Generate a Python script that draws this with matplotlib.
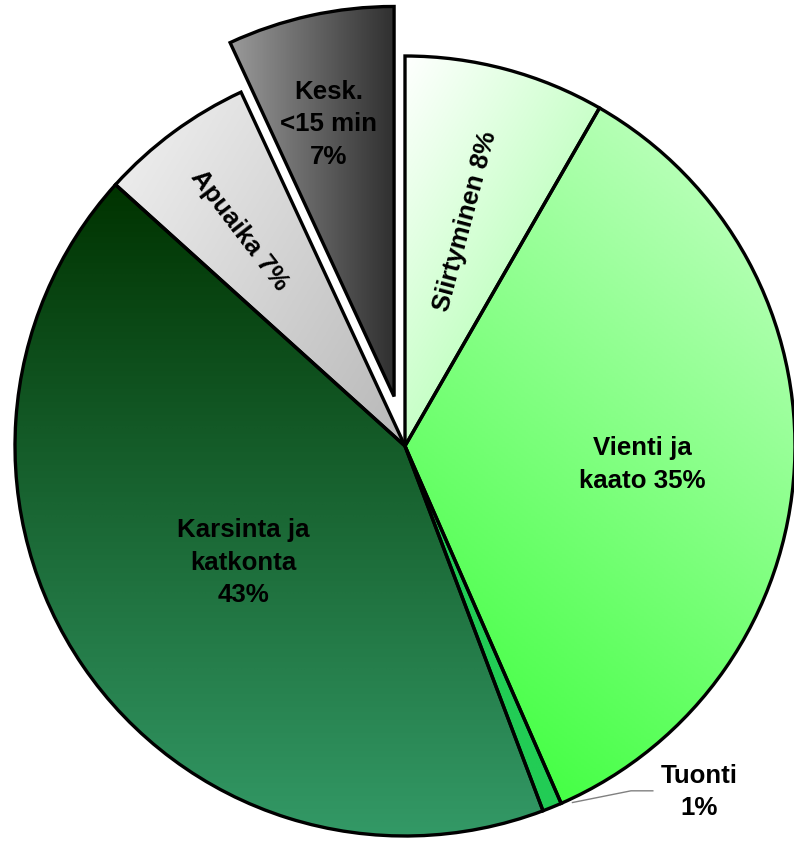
import numpy as np
import matplotlib
matplotlib.use("Agg")
import matplotlib.pyplot as plt
from matplotlib.colors import LinearSegmentedColormap

# ---- data (shares; labels as printed) ----
categories = ["Siirtyminen", "Vienti ja kaato", "Tuonti", "Karsinta ja katkonta", "Apuaika", "Kesk. <15 min"]
values = [8.3, 35.1, 0.8, 42.4, 6.4, 6.9]
labels = ["Siirtyminen 8%", "Vienti ja\nkaato 35%", "Tuonti\n1%", "Karsinta ja\nkatkonta\n43%", "Apuaika 7%", "Kesk.\n<15 min\n7%"]

# ---- styles ----
explode = [0, 0, 0, 0, 0, 0.13]
# gradient (start colour, end colour, direction vector in data coords)
gradients = [
    ("#ffffff", "#99ff99", (1.0, -0.6)),
    ("#33ff33", "#ccffcc", (0.8, 1.0)),
    ("#22cc55", "#22cc55", (1.0, 0.0)),
    ("#003300", "#339966", (0.0, -1.0)),
    ("#f2f2f2", "#b8b8b8", (1.0, -0.6)),
    ("#9a9a9a", "#303030", (1.0, 0.0)),
]
# label placement: radius fraction, angle tweak (deg, clockwise), rotation mode
label_r = [0.60, 0.61, None, 0.51, 0.70, 0.72]
label_dang = [0, 1.1, -3.0, -1.3, -1.0, -1]
label_rot = ["radial", None, None, None, "radial", None]

fig = plt.figure(figsize=(7.94, 8.45), dpi=100)
ax = fig.add_axes([0, 0, 1, 1])
cx_px, cy_px, R_px = 405, 447, 390

wedges, _ = ax.pie(values, startangle=90, counterclock=False, explode=explode,
                   radius=1.0, center=(0, 0), frame=True,
                   wedgeprops=dict(edgecolor="black", linewidth=2.4, facecolor="none", zorder=3))

for w, (c0, c1, d) in zip(wedges, gradients):
    ext = w.get_path().get_extents()
    x0, y0, x1, y1 = ext.x0, ext.y0, ext.x1, ext.y1
    n = 300
    X, Y = np.meshgrid(np.linspace(x0, x1, n), np.linspace(y0, y1, n))
    dx, dy = d
    T = X * dx + Y * dy
    T = (T - T.min()) / max(T.max() - T.min(), 1e-9)
    cmap = LinearSegmentedColormap.from_list("g", [c0, c1])
    im = ax.imshow(T, cmap=cmap, extent=(x0, x1, y0, y1), origin="lower",
                   interpolation="bilinear", zorder=2, aspect="auto")
    im.set_clip_path(w)

ax.set_xlim(-cx_px / R_px, (794 - cx_px) / R_px)
ax.set_ylim((cy_px - 845) / R_px, cy_px / R_px)
ax.set_aspect("equal")
ax.axis("off")

font = dict(family=["Liberation Sans", "DejaVu Sans"], fontweight="bold", fontsize=18.6, color="black")
LS = 1.45

for i, w in enumerate(wedges):
    th1, th2 = w.theta1, w.theta2
    mid = np.deg2rad((th1 + th2) / 2 - label_dang[i])
    cx, cy = w.center
    if label_r[i] is None:
        # outside label with leader line (Tuonti)
        ex, ey = cx + 1.01 * np.cos(mid), cy + 1.01 * np.sin(mid)
        kx, ky = ex + 0.15, ey + 0.03
        hx = kx + 0.056
        ax.plot([ex, kx, hx], [ey, ky, ky], color="#808080", lw=1.0, zorder=4)
        ax.text(hx + 0.118, ky + 0.0, labels[i], ha="center", va="center",
                linespacing=LS, zorder=5, **font)
        continue
    r = label_r[i]
    tx, ty = cx + r * np.cos(mid), cy + r * np.sin(mid)
    rot = 0
    if label_rot[i] == "radial":
        rot = np.rad2deg(mid)
        if rot > 90:
            rot -= 180
        elif rot < -90:
            rot += 180
    ax.text(tx, ty, labels[i], ha="center", va="center", rotation=rot,
            rotation_mode="anchor", linespacing=LS, zorder=5, **font)

fig.savefig("out.png", dpi=100)
